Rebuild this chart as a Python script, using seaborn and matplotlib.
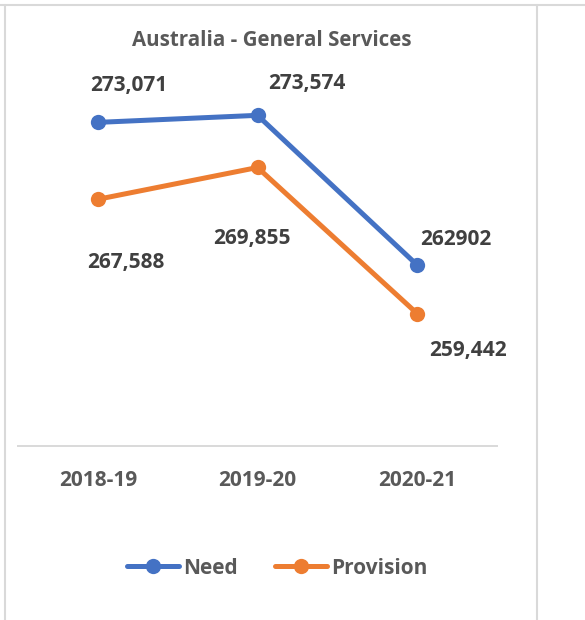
import matplotlib
matplotlib.use("Agg")
import matplotlib.pyplot as plt
from matplotlib.lines import Line2D
import seaborn as sns
import pandas as pd

# Chart data
years = ["2018-19", "2019-20", "2020-21"]
need = [273071, 273574, 262902]
provision = [267588, 269855, 259442]
series_names = ["Need", "Provision"]

need_labels = [f"{v:,}" for v in need]
need_labels[2] = str(need[2])
provision_labels = [f"{v:,}" for v in provision]

df = pd.DataFrame({
    "year": years * 2,
    "pos": list(range(len(years))) * 2,
    "value": need + provision,
    "series": [series_names[0]] * len(years) + [series_names[1]] * len(years),
})

sns.set_theme(style="white")
plt.rcParams["font.family"] = ["Open Sans", "DejaVu Sans"]

BLUE = "#4472C4"
ORANGE = "#ED7D31"
LABEL_C = "#404040"
GREY_C = "#595959"
RULE_C = "#D9D9D9"
FS = 15

W, H = 585, 620
fig = plt.figure(figsize=(W / 100, H / 100), dpi=100)
fig.patch.set_facecolor("white")

ax = fig.add_axes([18 / W, (H - 446) / H, 479 / W, 364.7 / H])
sns.lineplot(data=df, x="pos", y="value", hue="series",
             palette=[BLUE, ORANGE], marker="o", markersize=11,
             markeredgewidth=0, linewidth=3.6, ax=ax, legend=False)

ax.set_xlim(-0.5, len(years) - 0.5)
ax.set_ylim(250000, 276000)
ax.set_xticks(range(len(years)))
ax.set_xticklabels(years, fontsize=FS, fontweight="bold", color=GREY_C)
ax.tick_params(axis="x", length=0, pad=17)
ax.set_yticks([])
ax.set_xlabel("")
ax.set_ylabel("")
for side in ["left", "right", "top"]:
    ax.spines[side].set_visible(False)
ax.spines["bottom"].set_color(RULE_C)
ax.spines["bottom"].set_linewidth(1.4)

# Value labels, offsets in pixels from each point
need_off = [(31, 37), (49, 32), (39, 26)]
prov_off = [(28, -63), (-6, -71), (51, -37)]
for i, (v, lab) in enumerate(zip(need, need_labels)):
    dx, dy = need_off[i]
    ax.annotate(lab, (i, v), xytext=(dx * 0.72, dy * 0.72), textcoords="offset points",
                ha="center", va="center", fontsize=FS, fontweight="bold", color=LABEL_C)
for i, (v, lab) in enumerate(zip(provision, provision_labels)):
    dx, dy = prov_off[i]
    ax.annotate(lab, (i, v), xytext=(dx * 0.72, dy * 0.72), textcoords="offset points",
                ha="center", va="center", fontsize=FS, fontweight="bold", color=LABEL_C)

fig.text(272 / W, 1 - 41 / H, "Australia - General Services", ha="center", va="center",
         fontsize=14.8, fontweight="bold", color=GREY_C)

handles = [Line2D([], [], color=BLUE, marker="o", markersize=11, linewidth=3.6, markeredgewidth=0),
           Line2D([], [], color=ORANGE, marker="o", markersize=11, linewidth=3.6, markeredgewidth=0)]
fig.legend(handles, series_names, loc="center", bbox_to_anchor=(277 / W, 1 - 568 / H),
           ncol=2, frameon=False, handlelength=2.5, handletextpad=0.2, columnspacing=1.8,
           prop={"size": FS, "weight": "bold"}, labelcolor=GREY_C)

# Chart area border
fig.add_artist(Line2D([0, 1], [1 - 5 / H, 1 - 5 / H], color=RULE_C, linewidth=1.5, transform=fig.transFigure))
fig.add_artist(Line2D([5 / W, 5 / W], [0, 1 - 5 / H], color=RULE_C, linewidth=1.5, transform=fig.transFigure))
fig.add_artist(Line2D([537 / W, 537 / W], [0, 1 - 5 / H], color=RULE_C, linewidth=1.5, transform=fig.transFigure))

fig.savefig("out.png", dpi=100, facecolor="white")
